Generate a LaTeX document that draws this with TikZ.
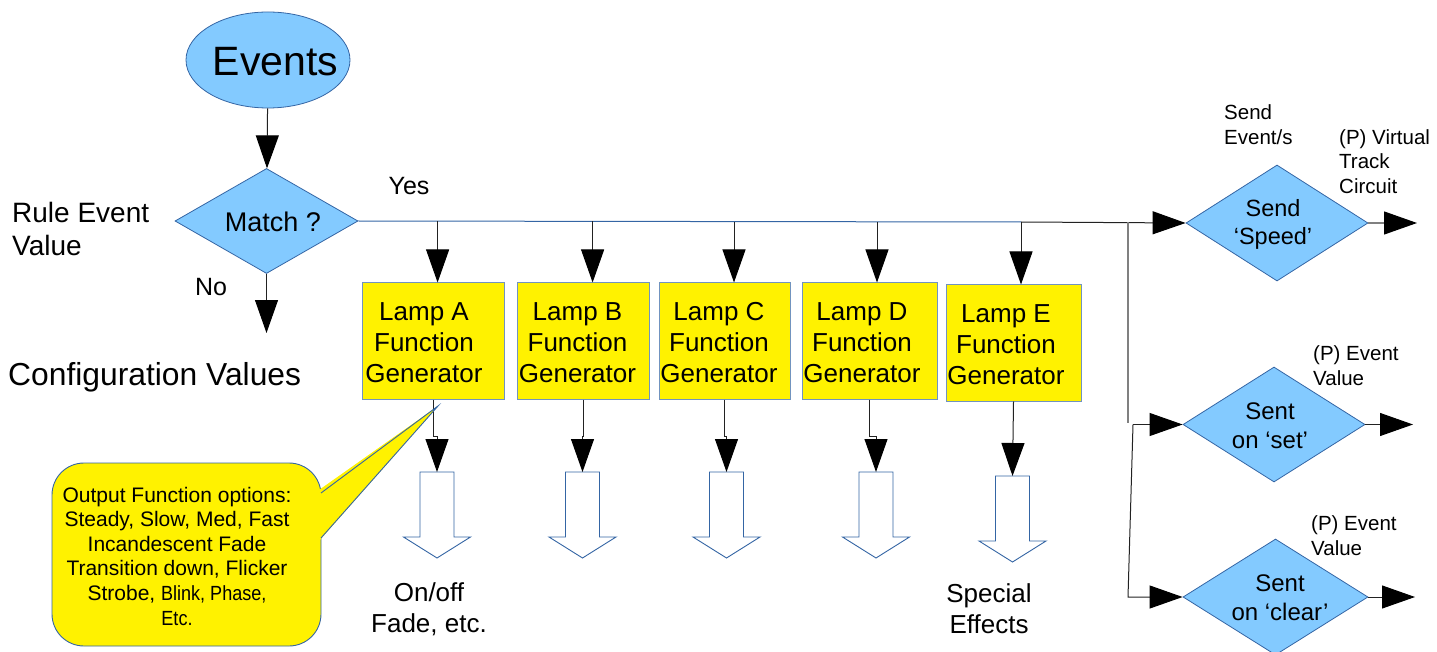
\documentclass[tikz,border=0pt]{standalone}
\usepackage{fontspec}
\setmainfont{Liberation Sans}
\newfontfamily\narrowfont[FakeStretch=0.88]{Liberation Sans}
\usetikzlibrary{arrows.meta,shapes.geometric}
\definecolor{lblue}{HTML}{83CAFF}
\definecolor{bord}{HTML}{3465A4}
\definecolor{conn}{HTML}{222222}
\begin{document}
\begin{tikzpicture}[x=1pt,y=-1pt,
  arr/.style={draw=conn, line width=1pt, -{Triangle[length=33pt,width=23pt,color=black]}},
  grayarr/.style={draw=gray, line width=1.2pt, -{Triangle[length=33pt,width=23pt,color=black]}},
  blueline/.style={draw=bord, line width=1pt},
  grayline/.style={draw=gray, line width=1.6pt},
  bshape/.style={fill=lblue, draw=bord, line width=0.8pt, inner sep=0pt},
  lampbox/.style={fill=yellow, draw=bord!70, line width=1pt, inner sep=0pt, minimum height=116pt},
  lamptext/.style={font=\fontsize{26}{31}\selectfont, align=center, inner sep=0pt},
  midtext/.style={font=\fontsize{24}{29}\selectfont, align=center, inner sep=0pt},
  smalltext/.style={font=\fontsize{20.5}{24.8}\selectfont, align=left, anchor=west, inner sep=0pt},
  blockarr/.pic={\draw[draw=bord, fill=white, line width=0.9pt] (-17,0) -- (17,0) -- (17,65) -- (33.5,65) -- (0,86) -- (-33.5,65) -- (-17,65) -- cycle;}
]
\useasboundingbox (0,0) rectangle (1437,652);

% top: events and match
\node[ellipse, bshape, minimum width=164pt, minimum height=96pt] (events) at (268,60) {};
\node[font=\fontsize{41}{45}\selectfont, inner sep=0pt] (eventsl) at (275.5,62) {Events};
\node[diamond, bshape, minimum width=183pt, minimum height=105pt] (match) at (266.5,221) {};
\node[font=\fontsize{27}{31}\selectfont, inner sep=0pt] (matchl) at (273,222) {Match ?};
\draw[arr] (events) -- (match);
\coordinate (noend) at (266.5,333);
\draw[arr] (match.south) -- (noend);

\node[font=\fontsize{28}{33}\selectfont, align=left, anchor=west, inner sep=0pt] (rule) at (12,229) {Rule Event\\Value};
\node[font=\fontsize{25}{29}\selectfont, inner sep=0pt] (no) at (211,287) {No};
\node[font=\fontsize{25}{29}\selectfont, inner sep=0pt] (yes) at (409,186) {Yes};
\node[font=\fontsize{31.8}{36}\selectfont, anchor=west, inner sep=0pt] (config) at (8,377) {Configuration Values};

% lamps
\node[lampbox, minimum width=142pt] (lampA) at (433,341) {};
\node[lampbox, minimum width=132pt] (lampB) at (583,341) {};
\node[lampbox, minimum width=131pt] (lampC) at (724.5,341) {};
\node[lampbox, minimum width=135pt] (lampD) at (869.5,341) {};
\node[lampbox, minimum width=135pt] (lampE) at (1013.5,343) {};
\node[lamptext] (lAt) at (424,343) {Lamp A\\Function\\Generator};
\node[lamptext] (lBt) at (577.5,343) {Lamp B\\Function\\Generator};
\node[lamptext] (lCt) at (719,343) {Lamp C\\Function\\Generator};
\node[lamptext] (lDt) at (862,343) {Lamp D\\Function\\Generator};
\node[lamptext] (lEt) at (1006,345) {Lamp E\\Function\\Generator};

% main yes line and drops
\coordinate (dA) at (437.6,221.5);
\coordinate (dB) at (592.6,221.5);
\coordinate (dC) at (734,222);
\coordinate (dD) at (877,222);
\coordinate (dE) at (1021,222);
\draw[blueline] (match.east) -- (dE);
\draw[arr] (dA) -- (dA |- lampA.north);
\draw[arr] (dB) -- (dB |- lampB.north);
\draw[arr] (dC) -- (dC |- lampC.north);
\draw[arr] (dD) -- (dD |- lampD.north);
\draw[arr] (dE) -- (dE |- lampE.north);

% right diamonds
\node[diamond, bshape, minimum width=182pt, minimum height=116pt] (speed) at (1277,223) {};
\node[diamond, bshape, minimum width=182pt, minimum height=115pt] (set) at (1274,424.5) {};
\node[diamond, bshape, minimum width=185pt, minimum height=116pt] (clear) at (1275.5,597) {};
\node[midtext, font=\fontsize{23.5}{28}\selectfont] (speedl) at (1273,224) {Send\\‘Speed’};
\node[midtext] (setl) at (1270,425.5) {Sent\\on ‘set’};
\node[midtext] (clearl) at (1280,597.5) {Sent\\on ‘clear’};
\draw[arr] (dE) -- (speed.west);

\coordinate (vt) at (1128,222);
\coordinate (vb) at (1128,423);
\draw[grayline] (vt) -- (vb);
\coordinate (j) at (1133,424.5);
\coordinate (cb) at (1128,597);
\draw[arr] (j) -- (set.west);
\draw[arr] (j) -- (cb) -- (clear.west);

\coordinate (oS) at (1417,223);
\coordinate (oSet) at (1413,424.5);
\coordinate (oC) at (1415,597);
\draw[grayarr] (speed.east) -- (oS);
\draw[arr] (set.east) -- (oSet);
\draw[arr] (clear.east) -- (oC);

\node[smalltext] (sendev) at (1224,124.5) {Send\\Event/s};
\node[smalltext] (pvtc) at (1339,161.5) {(P) Virtual\\Track\\Circuit};
\node[smalltext] (pev1) at (1313,365.5) {(P) Event\\Value};
\node[smalltext] (pev2) at (1311,536) {(P) Event\\Value};

% block arrows
\coordinate (bA) at (437,472);
\coordinate (bB) at (582.5,472);
\coordinate (bC) at (726.5,472);
\coordinate (bD) at (876,472);
\coordinate (bE) at (1012.5,476);
\pic at (bA) {blockarr};
\pic at (bB) {blockarr};
\pic at (bC) {blockarr};
\pic at (bD) {blockarr};
\pic at (bE) {blockarr};
\draw[arr] (lampA.south) -- ++(0,37) -| (bA);
\draw[arr] (lampB.south) -- ++(0,37) -| (bB);
\draw[arr] (lampC.south) -- ++(0,37) -| (bC);
\draw[arr] (lampD.south) -- ++(0,37) -| (bD);
\draw[arr] (lampE.south) -- (bE);

\node[lamptext] (onoff) at (429,609) {On/off\\Fade, etc.};
\node[lamptext] (special) at (989,609) {Special\\Effects};

% callout
\coordinate (tip) at (438,406);
\node[draw=bord, fill=yellow, line width=0.9pt, rounded corners=32pt, minimum width=269pt, minimum height=183pt] (callout) at (186.5,554.5) {};
\fill[yellow] (319,490) -- (tip) -- (319,541) -- cycle;
\draw[draw=bord, line width=0.9pt] (321,493) -- (tip) -- (321,538);
\node[font=\fontsize{21}{24.6}\selectfont, align=center, inner sep=0pt] (calltext) at (177,556) {Output Function options:\\Steady, Slow, Med, Fast\\Incandescent Fade\\Transition down, Flicker\\Strobe, {\narrowfont\fontsize{20.5}{24.6}\selectfont Blink, Phase,}\\{\narrowfont\fontsize{20.5}{24.6}\selectfont Etc.}};
\end{tikzpicture}
\end{document}
